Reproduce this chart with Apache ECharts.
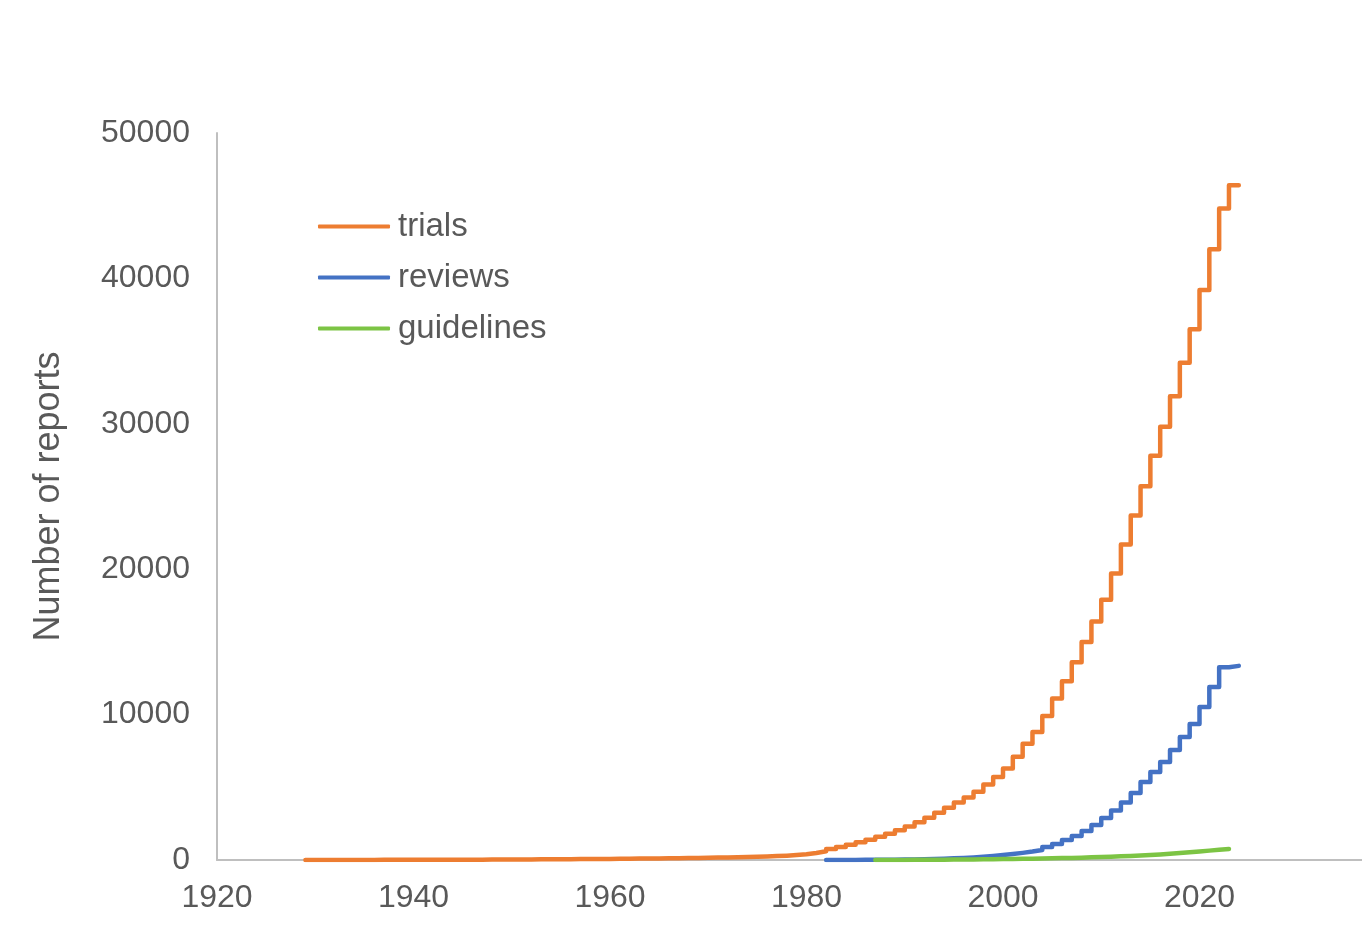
<!DOCTYPE html>
<html>
<head>
<meta charset="utf-8">
<script src="https://cdn.jsdelivr.net/npm/echarts@6/dist/echarts.min.js"></script>
<style>
html,body{margin:0;padding:0;background:#fff;}
#chart{width:1362px;height:933px;}
</style>
</head>
<body>
<div id="chart"></div>
<script>
// ---- data (cumulative number of reports per year) ----
const seriesNames = ['trials', 'reviews', 'guidelines'];
const xTicks = [1920, 1940, 1960, 1980, 2000, 2020, 2040];
const yTicks = [0, 10000, 20000, 30000, 40000, 50000];

const trialsStartYear = 1929;
const trials = [
  1,2,3,4,5,6,7,8,9,10,
  11,12,13,14,15,17,19,21,23,26,
  29,32,35,39,43,47,51,56,61,66,
  71,77,83,89,96,103,110,118,126,135,
  144,154,164,175,187,200,215,
  240,270,300,340,390,
  480,600,750,900,1050,
  1220,1400,1600,1800,2050,
  2300,2600,2900,3250,3600,
  3950,4300,4700,5200,5700,
  6300,7100,8000,8800,9900,
  11100,12300,13600,15000,16400,
  17900,19700,21700,23700,25700,
  27800,29800,31900,34200,36500,
  39200,42000,44800,46400
];

const reviewsStartYear = 1982;
const reviews = [
  0,2,4,7,10,
  14,18,24,30,40,
  55,70,90,115,145,
  180,225,280,340,410,
  490,580,690,890,1100,
  1380,1650,2000,2400,2890,
  3400,3950,4600,5360,6050,
  6740,7570,8460,9350,10520,
  11900,13250,13350
];

const guidelinesStartYear = 1987;
const guidelines = [
  0,2,5,8,12,16,20,25,30,36,
  42,49,56,64,72,82,92,104,116,130,
  146,163,182,203,226,252,280,310,345,385,
  430,480,535,590,645,700,760
];

const colors = ['#ED7D31', '#4472C4', '#7CC444'];

function toPairs(start, vals){ return vals.map((v,i)=>[start+i, v]); }

const chart = echarts.init(document.getElementById('chart'));
const font = '"Liberation Sans", Arial, sans-serif';
const txtColor = '#595959';
const lineW = 4.5;

function mkSeries(name, data, color){
  return {
    name: name, type: 'line', step: 'start', data: data,
    showSymbol: false, symbol: 'none', animation: false,
    lineStyle: { color: color, width: lineW, cap: 'round', join: 'round' },
    itemStyle: { color: color }
  };
}

chart.setOption({
  animation: false,
  backgroundColor: '#ffffff',
  color: colors,
  grid: { left: 217, top: 133, width: 1179, height: 727, containLabel: false, outerBoundsMode: 'none' },
  legend: {
    orient: 'vertical', left: 313, top: 205,
    itemWidth: 72, itemHeight: 4, itemGap: 18,
    icon: 'roundRect',
    data: seriesNames,
    textStyle: { fontFamily: font, fontSize: 33, color: txtColor, padding: [0,0,0,3] }
  },
  xAxis: {
    type: 'value', min: xTicks[0], max: xTicks[xTicks.length-1], interval: 20,
    axisLine: { show: true, lineStyle: { color: '#BFBFBF', width: 2 } },
    axisTick: { show: false },
    splitLine: { show: false },
    axisLabel: { fontFamily: font, fontSize: 32, color: txtColor, margin: 22,
      formatter: v => String(v), showMaxLabel: true, showMinLabel: true }
  },
  yAxis: {
    type: 'value', min: yTicks[0], max: yTicks[yTicks.length-1], interval: 10000,
    name: 'Number of reports', nameLocation: 'middle', nameGap: 150,
    nameTextStyle: { fontFamily: font, fontSize: 36, color: txtColor },
    axisLine: { show: true, lineStyle: { color: '#BFBFBF', width: 2 } },
    axisTick: { show: false },
    splitLine: { show: false },
    axisLabel: { fontFamily: font, fontSize: 32, color: txtColor, margin: 27,
      formatter: v => String(v) }
  },
  series: [
    mkSeries(seriesNames[0], toPairs(trialsStartYear, trials), colors[0]),
    mkSeries(seriesNames[1], toPairs(reviewsStartYear, reviews), colors[1]),
    mkSeries(seriesNames[2], toPairs(guidelinesStartYear, guidelines), colors[2])
  ]
});
</script>
</body>
</html>
